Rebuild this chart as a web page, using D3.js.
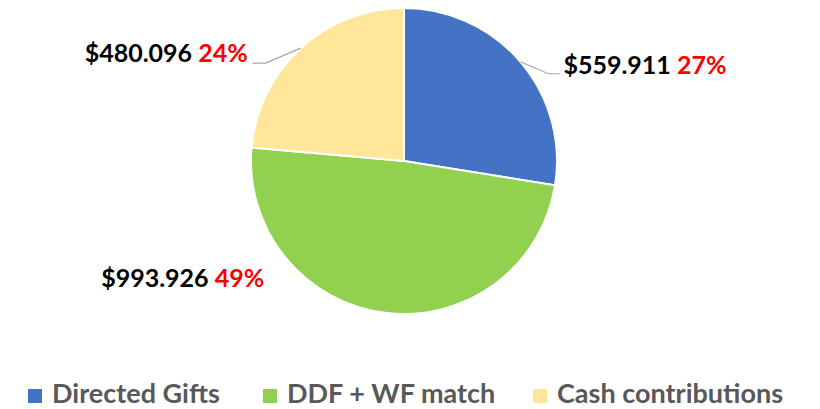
<!DOCTYPE html>
<html>
<head>
<meta charset="utf-8">
<script src="https://cdn.jsdelivr.net/npm/d3@7"></script>
<style>
  body { margin: 0; background: #fff; }
  svg { display: block; }
  .lbl { font-family: Lato, "Open Sans", sans-serif; font-weight: 700; font-size: 25px; }
  .leg { font-family: Lato, "Open Sans", sans-serif; font-weight: 700; font-size: 27px; fill: #595959; }
</style>
</head>
<body>
<div id="chart"></div>
<script>
// data
const categories = ["Directed Gifts", "DDF + WF match", "Cash contributions"];
const values = [559.911, 993.926, 480.096];
const valueLabels = ["$559.911", "$993.926", "$480.096"];
const pctLabels = ["27%", "49%", "24%"];
const colors = ["#4472C4", "#92D050", "#FFE699"];

const width = 820, height = 409;
const cx = 404, cy = 161, radius = 153;

// where each data label sits relative to the slice edge (elbow, text anchor)
const labelLayout = [
    {elbow: [28, 12], end: [40, 12], text: [43, 12], anchor: "start", line: true},
    {elbow: null, end: null, text: [-121, -26], anchor: "end", line: false},
    {elbow: [-35, 15], end: [-48, 15], text: [-53, 14], anchor: "end", line: true}
];

const svg = d3.select("#chart").append("svg")
    .attr("width", width)
    .attr("height", height);

const pie = d3.pie().sort(null).value(d => d);
const arcs = pie(values);

const arc = d3.arc().innerRadius(0).outerRadius(radius);

const g = svg.append("g").attr("transform", "translate(" + cx + "," + cy + ")");

g.selectAll("path.slice")
    .data(arcs)
    .enter().append("path")
    .attr("class", "slice")
    .attr("d", arc)
    .attr("fill", (d, i) => colors[i])
    .attr("stroke", "#fff")
    .attr("stroke-width", 2);

// edge point at mid angle
function edgePoint(d) {
    let a = (d.startAngle + d.endAngle) / 2;
    return [radius * Math.sin(a), -radius * Math.cos(a)];
}

arcs.forEach((d, i) => {
    let p = edgePoint(d);
    let lay = labelLayout[i];
    if (lay.line) {
        g.append("polyline")
            .attr("points", [p, [p[0] + lay.elbow[0], p[1] + lay.elbow[1]], [p[0] + lay.end[0], p[1] + lay.end[1]]].map(q => q.join(",")).join(" "))
            .attr("fill", "none")
            .attr("stroke", "#a6a6a6")
            .attr("stroke-width", 1.2);
    }
    let t = g.append("text")
        .attr("class", "lbl")
        .attr("x", p[0] + lay.text[0])
        .attr("y", p[1] + lay.text[1])
        .attr("text-anchor", lay.anchor);
    t.append("tspan").attr("fill", "#000").text(valueLabels[i] + " ");
    t.append("tspan").attr("fill", "#FF0000").text(pctLabels[i]);
});

// legend (spacing is not even in the original)
const legendPos = [28, 263, 533];

let leg = svg.selectAll("g.legend")
    .data(categories)
    .enter().append("g")
    .attr("class", "legend")
    .attr("transform", (d, i) => "translate(" + legendPos[i] + ",389)");

leg.append("rect")
    .attr("width", 14)
    .attr("height", 14)
    .attr("fill", (d, i) => colors[i]);

leg.append("text")
    .attr("class", "leg")
    .attr("x", 24)
    .attr("y", 14)
    .text(d => d);
</script>
</body>
</html>
